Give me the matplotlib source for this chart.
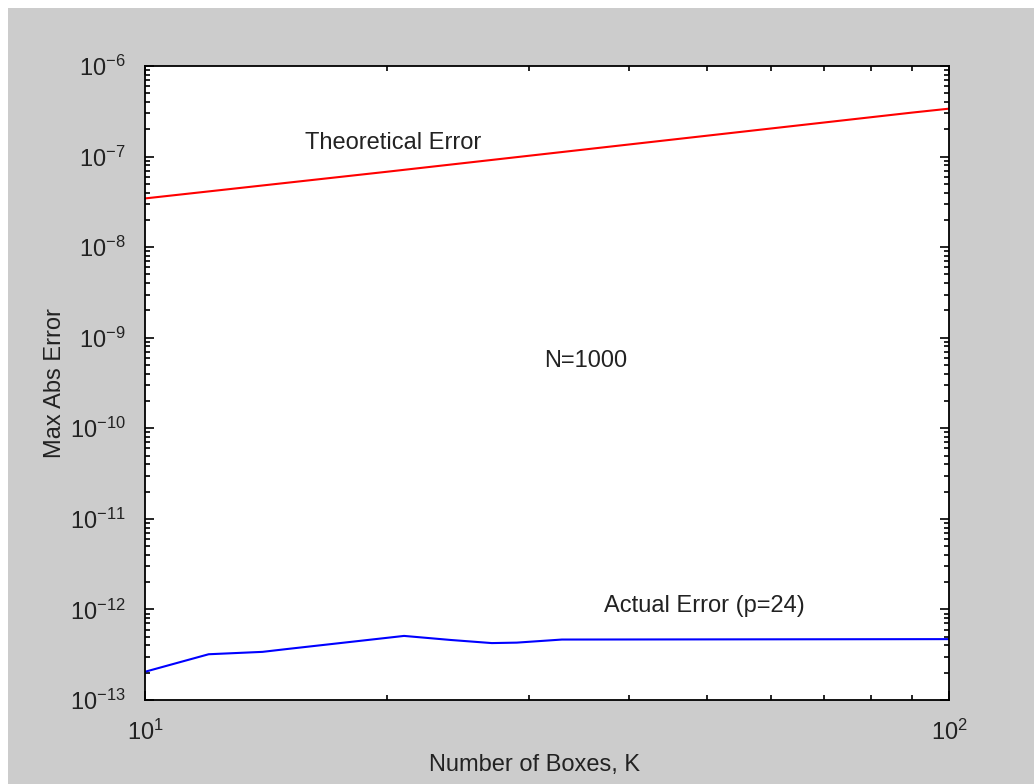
import matplotlib
matplotlib.use("Agg")
import matplotlib.pyplot as plt
from matplotlib.patches import Rectangle

# 이론 오차 (빨강)
K_THEORY = [10, 20, 30, 40, 50, 60, 70, 80, 90, 100]
ERR_THEORY = [3.45e-8, 6.8e-8, 1.02e-7, 1.36e-7, 1.70e-7, 2.04e-7, 2.38e-7, 2.72e-7, 3.06e-7, 3.38e-7]

# 실제 오차 (파랑, p=24)
K_ACTUAL = [10, 12, 14, 15, 21, 24, 27, 29, 33, 100]
ERR_ACTUAL = [2.05e-13, 3.2e-13, 3.4e-13, 3.65e-13, 5.1e-13, 4.6e-13, 4.25e-13, 4.3e-13, 4.65e-13, 4.7e-13]

plt.rcParams["font.family"] = ["Liberation Sans", "DejaVu Sans"]
plt.rcParams["mathtext.fontset"] = "custom"
plt.rcParams["mathtext.rm"] = "Liberation Sans"
plt.rcParams["mathtext.it"] = "Liberation Sans"
plt.rcParams["font.size"] = 17

fig = plt.figure(figsize=(10.34, 7.84), dpi=100, facecolor="white")
fig.patches.append(Rectangle((8 / 1034, 0), 1, 1 - 8 / 784, transform=fig.transFigure,
                             facecolor="#cccccc", edgecolor="none", zorder=-10))
ax = fig.add_axes([145 / 1034, 1 - 700 / 784, 804 / 1034, 634 / 784])

ax.plot(K_THEORY, ERR_THEORY, color="#ff0000", lw=1.5)
ax.plot(K_ACTUAL, ERR_ACTUAL, color="#0000ff", lw=1.5)

ax.set_xscale("log")
ax.set_yscale("log")
ax.set_xlim(10, 100)
ax.set_ylim(1e-13, 1e-6)

ax.text(15.8, 1.4e-7, "Theoretical Error", ha="left", va="center", color="#222222")
ax.text(31.4, 5.5e-10, "N=1000", ha="left", va="center", color="#222222")
ax.text(37.2, 1.09e-12, "Actual Error (p=24)", ha="left", va="center", color="#222222")

ax.set_xlabel("Number of Boxes, K", color="#222222")
ax.set_ylabel("Max Abs Error", color="#222222")
ax.xaxis.set_label_coords(0.485, -0.085)
ax.yaxis.set_label_coords(-0.098, 0.5)

for s in ax.spines.values():
    s.set_linewidth(1.3)
ax.tick_params(which="both", direction="in", top=True, right=True, colors="black",
               labelcolor="#222222", labelsize=17)
ax.tick_params(which="major", length=6.5, width=1.2, pad=14)
ax.tick_params(which="minor", length=3.6, width=1.2)
ax.yaxis.set_minor_locator(matplotlib.ticker.LogLocator(base=10, subs=range(2, 10), numticks=20))
ax.yaxis.set_minor_formatter(matplotlib.ticker.NullFormatter())
ax.xaxis.set_minor_formatter(matplotlib.ticker.NullFormatter())

fig.savefig("out.png", dpi=100)
